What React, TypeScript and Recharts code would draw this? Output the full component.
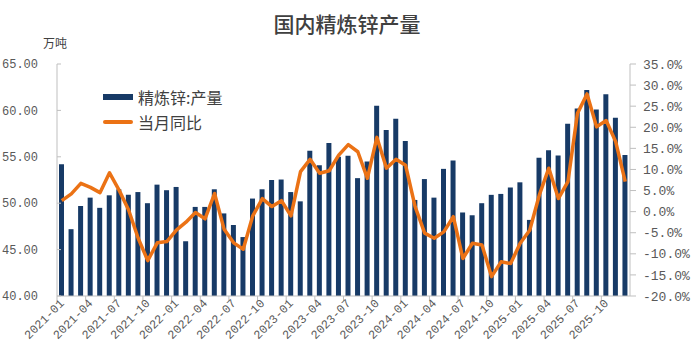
import { Bar, ComposedChart, Legend, Line, XAxis, YAxis } from "recharts";

// months 2021-01 .. 2025-12
const years = ["2021", "2022", "2023", "2024", "2025"];
const monthNums = ["01", "02", "03", "04", "05", "06", "07", "08", "09", "10", "11", "12"];
const months = years.flatMap((y) => monthNums.map((m) => `${y}-${m}`));

// 精炼锌产量, 万吨
const output = [
  54.2, 47.2, 49.7, 50.6, 49.5, 50.85, 51.5, 50.9, 51.2, 50.0, 52.0, 51.4,
  51.75, 45.9, 49.6, 49.6, 51.5, 48.9, 47.65, 46.35, 50.5, 51.5, 52.5, 52.55,
  51.2, 50.2, 55.65, 54.1, 56.5, 55.0, 55.1, 52.7, 54.5, 60.5, 57.9, 59.1,
  56.7, 50.35, 52.6, 50.6, 53.7, 54.6, 49.0, 48.7, 50.0, 50.9, 51.0, 51.7,
  52.25, 48.2, 54.9, 55.7, 55.15, 58.55, 60.2, 62.2, 60.1, 61.75, 59.2, 55.2,
];

// 当月同比, %
const yoy = [
  2.6, 4.2, 6.7, 5.75, 4.5, 9.2, 5.1, 0.4, -6.3, -11.6, -7.4, -7.1,
  -4.4, -2.5, -0.2, -1.7, 4.3, -4.2, -7.4, -8.9, -1.0, 3.1, 1.2, 2.6,
  -1.0, 9.5, 12.4, 9.1, 9.7, 13.4, 15.9, 14.2, 7.9, 17.6, 10.3, 12.4,
  11.0, 1.2, -5.1, -6.3, -4.8, -1.2, -11.1, -7.5, -7.9, -15.4, -11.9, -12.3,
  -7.5, -4.4, 3.9, 10.3, 3.1, 7.1, 23.3, 27.9, 20.1, 21.6, 16.6, 7.1,
];

const leftTicks = [40, 45, 50, 55, 60, 65];
const rightTicks = [-20, -15, -10, -5, 0, 5, 10, 15, 20, 25, 30, 35];

const data = months.map((m, i) => ({ month: m, output: output[i], yoy: yoy[i] }));

const W = 694;
const H = 363;
const LEFT_W = 57;
const RIGHT_W = 64;
const TOP = 64;
const X_H = 67;
const band = (W - LEFT_W - RIGHT_W) / months.length;

const NAVY = "#173A66";
const ORANGE = "#EB7215";
const GRID = "#BFBFBF";
const MONO = "'Liberation Mono', 'DejaVu Sans Mono', monospace";
const CJK = "'Noto Sans CJK SC', sans-serif";

function MonthTick({ x, y, payload }: any) {
  const axisY = y - 7;
  const left = x - band / 2;
  const tx = x + 3;
  const ty = axisY + 8;
  return (
    <g>
      <line x1={left} x2={left} y1={axisY} y2={axisY + 5} stroke={GRID} />
      <text x={tx} y={ty} textAnchor="end" transform={`rotate(-45 ${tx} ${ty})`} fontSize={12} fill="#595959" fontFamily={MONO}>
        {payload.value}
      </text>
    </g>
  );
}

function LeftTick({ x, y, payload }: any) {
  return (
    <g>
      <line x1={LEFT_W} x2={LEFT_W + 4} y1={y} y2={y} stroke={GRID} />
      <text x={x} y={y} dy="0.35em" textAnchor="end" fontSize={12} fill="#595959" fontFamily={MONO}>
        {payload.value.toFixed(2)}
      </text>
    </g>
  );
}

function LegendBox() {
  const row = { display: "flex", alignItems: "center", height: 25 } as const;
  const label = { fontSize: 16, color: "#404040", fontFamily: CJK, marginLeft: 5 };
  return (
    <div>
      <div style={row}>
        <span style={{ width: 30, height: 6, background: NAVY, display: "inline-block" }} />
        <span style={label}>精炼锌:产量</span>
      </div>
      <div style={row}>
        <span style={{ width: 30, height: 4, background: ORANGE, display: "inline-block", borderRadius: 2 }} />
        <span style={label}>当月同比</span>
      </div>
    </div>
  );
}

export default function App() {
  return (
    <div style={{ position: "absolute", left: 0, top: 0, width: W, height: H, background: "#fff" }}>
      <div style={{ position: "absolute", left: 0, top: 8, width: W, textAlign: "center", fontFamily: CJK, fontSize: 21, fontWeight: 500, color: "#404040", lineHeight: "30px" }}>
        国内精炼锌产量
      </div>
      <div style={{ position: "absolute", left: 43, top: 35, fontFamily: CJK, fontSize: 12, color: "#404040", lineHeight: "16px" }}>
        万吨
      </div>
      <ComposedChart width={W} height={H} data={data} margin={{ top: TOP, right: 0, bottom: 0, left: 0 }} style={{ fontFamily: MONO }}>
        <XAxis dataKey="month" height={X_H} interval={2} tickSize={5} tickMargin={2} tickLine={false} axisLine={{ stroke: GRID }} tick={<MonthTick />} />
        <YAxis yAxisId="l" orientation="left" width={LEFT_W} domain={[40, 65]} ticks={leftTicks} tickLine={false} tickSize={4} tickMargin={15} axisLine={{ stroke: GRID }} tick={<LeftTick />} />
        <YAxis
          yAxisId="r"
          orientation="right"
          width={RIGHT_W}
          domain={[-20, 35]}
          ticks={rightTicks}
          tickFormatter={(v: number) => `${v.toFixed(1)}%`}
          tickSize={6}
          tickMargin={7}
          axisLine={{ stroke: GRID }}
          tickLine={{ stroke: GRID }}
          tick={{ fontSize: 13, fill: "#595959", fontFamily: MONO, textAnchor: "start" }}
        />
        <Legend layout="vertical" align="center" verticalAlign="middle" wrapperStyle={{ left: 103, top: 84, width: 170 }} content={<LegendBox />} />
        <Bar yAxisId="l" dataKey="output" fill={NAVY} barSize={5} isAnimationActive={false} />
        <Line yAxisId="r" dataKey="yoy" type="linear" stroke={ORANGE} strokeWidth={3.5} strokeLinejoin="round" dot={false} isAnimationActive={false} />
      </ComposedChart>
    </div>
  );
}
